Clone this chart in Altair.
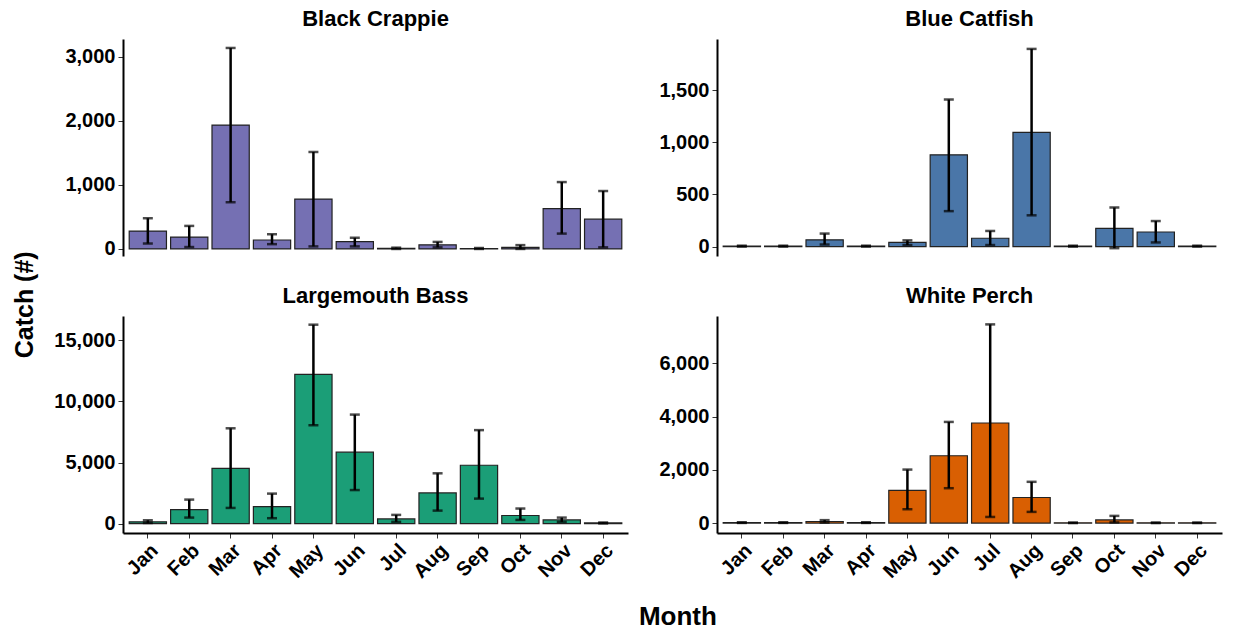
import altair as alt
import pandas as pd

FONT = "Liberation Sans"

months = ["Jan", "Feb", "Mar", "Apr", "May", "Jun", "Jul", "Aug", "Sep", "Oct", "Nov", "Dec"]

species = ["Black Crappie", "Blue Catfish", "Largemouth Bass", "White Perch"]
colors = ["#7570B3", "#4A76A8", "#1B9E77", "#D95F02"]

# Black Crappie
bc_mean = [280, 185, 1935, 140, 780, 115, 8, 65, 6, 25, 630, 465]
bc_lo = [85, 30, 730, 75, 40, 40, 0, 25, 0, 0, 240, 25]
bc_hi = [480, 360, 3140, 230, 1515, 175, 20, 110, 15, 60, 1045, 905]

# Blue Catfish
cf_mean = [4, 4, 65, 4, 40, 880, 80, 1095, 4, 175, 140, 4]
cf_lo = [0, 0, 20, 0, 15, 340, 15, 300, 0, -15, 40, 0]
cf_hi = [9, 9, 125, 9, 60, 1410, 150, 1895, 9, 375, 245, 9]

# Largemouth Bass
lb_mean = [150, 1150, 4520, 1400, 12200, 5850, 390, 2520, 4780, 670, 310, 60]
lb_lo = [60, 500, 1290, 450, 8050, 2750, 150, 1070, 2050, 310, 150, 20]
lb_hi = [280, 1970, 7800, 2460, 16270, 8920, 720, 4120, 7650, 1240, 500, 100]

# White Perch
wp_mean = [15, 15, 60, 15, 1230, 2530, 3760, 960, 10, 120, 10, 10]
wp_lo = [5, 5, 20, 5, 520, 1310, 230, 420, 0, 25, 0, 0]
wp_hi = [30, 30, 110, 30, 2010, 3800, 7465, 1550, 20, 270, 20, 20]

domains = [[-110, 3280], [-90, 1990], [-760, 16980], [-373, 7780]]
tick_values = [[0, 1000, 2000, 3000], [0, 500, 1000, 1500],
               [0, 5000, 10000, 15000], [0, 2000, 4000, 6000]]

W, H = 505, 217


def panel(name, mean, lo, hi, color, domain, ticks, show_x):
    df = pd.DataFrame({"Month": months, "mean": mean, "lo": lo, "hi": hi})
    if show_x:
        x_axis = alt.Axis(title=None, labelAngle=-45, labelFontSize=20,
                          labelFontWeight="bold", labelColor="black",
                          labelAlign="right", labelBaseline="top",
                          tickColor="#333", tickSize=5, domainColor="black",
                          domainWidth=2, labelPadding=2, labelFont=FONT)
    else:
        x_axis = None
    xs = alt.Scale(paddingInner=0.1, paddingOuter=0.15)
    x = alt.X("Month:N", sort=months, scale=xs, axis=x_axis)
    y_axis = alt.Axis(title=None, values=ticks, format=",.0f", grid=False,
                      labelFontSize=20, labelFontWeight="bold", labelColor="black",
                      tickColor="#333", tickSize=5, domainColor="black",
                      domainWidth=2, labelPadding=3, labelFont=FONT)
    y = alt.Y("mean:Q", scale=alt.Scale(domain=domain, nice=False, zero=False), axis=y_axis)
    base = alt.Chart(df)
    bars = base.mark_bar(color=color, stroke="#222222", strokeWidth=1.2).encode(x=x, y=y)
    rules = base.mark_rule(color="black", strokeWidth=2.5).encode(
        x=alt.X("Month:N", sort=months), y="lo:Q", y2="hi:Q")
    cap_hi = base.mark_tick(color="black", thickness=2.5, size=10).encode(
        x=alt.X("Month:N", sort=months), y="hi:Q")
    cap_lo = base.mark_tick(color="black", thickness=2.5, size=10).encode(
        x=alt.X("Month:N", sort=months), y="lo:Q")
    return alt.layer(bars, rules, cap_hi, cap_lo).properties(
        width=W, height=H,
        title=alt.TitleParams(name, fontSize=22, fontWeight="bold", font=FONT,
                              anchor="middle", offset=8, color="black"))


p1 = panel(species[0], bc_mean, bc_lo, bc_hi, colors[0], domains[0], tick_values[0], False)
p2 = panel(species[1], cf_mean, cf_lo, cf_hi, colors[1], domains[1], tick_values[1], False)
p3 = panel(species[2], lb_mean, lb_lo, lb_hi, colors[2], domains[2], tick_values[2], True)
p4 = panel(species[3], wp_mean, wp_lo, wp_hi, colors[3], domains[3], tick_values[3], True)

grid = alt.concat(
    p1, p2, p3, p4, columns=2, spacing={"row": 26, "column": 30},
    title=alt.TitleParams("Month", orient="bottom", anchor="middle", fontSize=26,
                          fontWeight="bold", font=FONT, color="black", offset=22, dx=40),
)

chart = alt.hconcat(
    grid,
    title=alt.TitleParams("Catch (#)", orient="left", anchor="middle", fontSize=25,
                          fontWeight="bold", font=FONT, color="black", offset=16, dx=14),
).configure(
    font=FONT, padding={"left": 12, "top": 8, "right": 5, "bottom": 0},
    view=alt.ViewConfig(stroke="transparent", strokeWidth=0),
)

chart.save("out.html", embed_options={"renderer": "svg", "actions": False})
